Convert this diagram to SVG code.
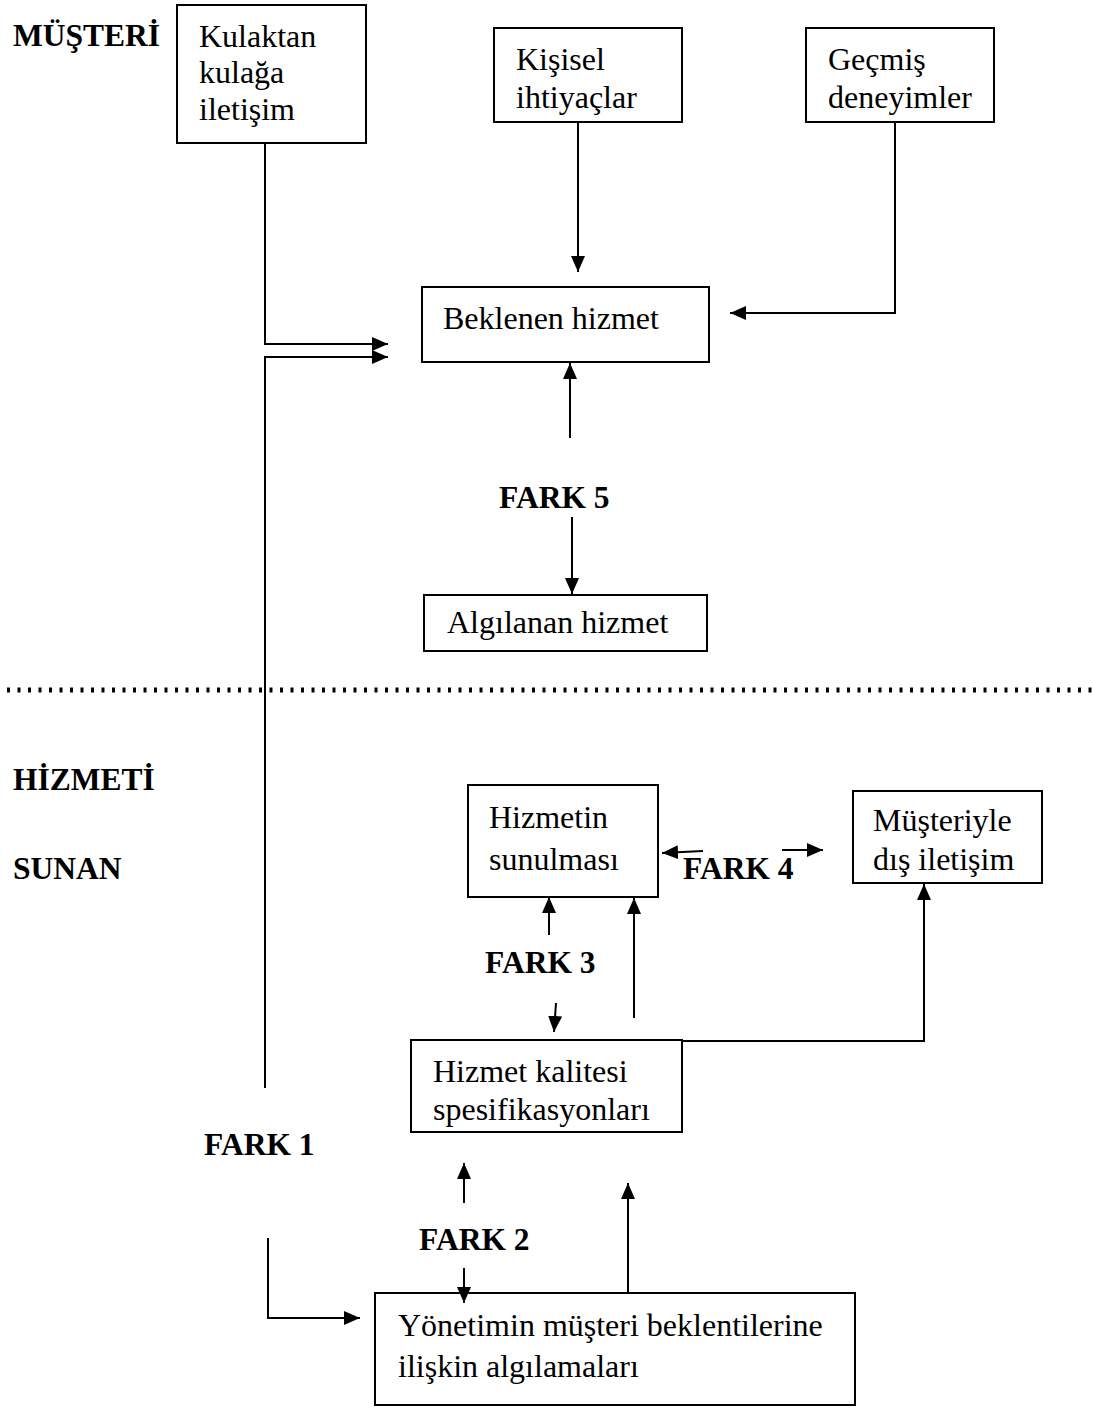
<svg xmlns="http://www.w3.org/2000/svg" width="1093" height="1416" viewBox="0 0 1093 1416">
  <defs>
    <marker id="arrow" markerUnits="userSpaceOnUse" markerWidth="17" markerHeight="15" refX="16" refY="7" orient="auto">
      <path d="M0,0 L16,7 L0,14 Z" fill="#000"/>
    </marker>
    <style>
      .box { fill: #fff; stroke: #000; stroke-width: 2; }
      .txt { font-family: "Liberation Serif", "Times New Roman", serif; font-size: 32px; fill: #000; }
      .lbl { font-family: "Liberation Serif", "Times New Roman", serif; font-size: 31.5px; font-weight: bold; fill: #000; }
      .conn { fill: none; stroke: #000; stroke-width: 2; }
      .arr { marker-end: url(#arrow); }
    </style>
  </defs>
  <rect width="1093" height="1416" fill="#fff"/>

  <!-- side labels and gap labels -->
  <g id="labels">
    <text class="lbl" x="13" y="46">MÜŞTERİ</text>
    <text class="lbl" x="13" y="790">HİZMETİ</text>
    <text class="lbl" x="13" y="879">SUNAN</text>
    <text class="lbl" x="499" y="508">FARK 5</text>
    <text class="lbl" x="683" y="879">FARK 4</text>
    <text class="lbl" x="485" y="973">FARK 3</text>
    <text class="lbl" x="204" y="1155">FARK 1</text>
    <text class="lbl" x="419" y="1250">FARK 2</text>
  </g>

  <!-- nodes -->
  <g id="kulaktan">
    <rect class="box" x="177" y="5" width="189" height="138"/>
    <text class="txt" x="199" y="47">Kulaktan</text>
    <text class="txt" x="199" y="83">kulağa</text>
    <text class="txt" x="199" y="120">iletişim</text>
  </g>
  <g id="kisisel">
    <rect class="box" x="494" y="28" width="188" height="94"/>
    <text class="txt" x="516" y="70">Kişisel</text>
    <text class="txt" x="516" y="108">ihtiyaçlar</text>
  </g>
  <g id="gecmis">
    <rect class="box" x="806" y="28" width="188" height="94"/>
    <text class="txt" x="828" y="70">Geçmiş</text>
    <text class="txt" x="828" y="108">deneyimler</text>
  </g>
  <g id="beklenen">
    <rect class="box" x="422" y="287" width="287" height="75"/>
    <text class="txt" x="443" y="329">Beklenen hizmet</text>
  </g>
  <g id="algilanan">
    <rect class="box" x="424" y="595" width="283" height="56"/>
    <text class="txt" x="447" y="633">Algılanan hizmet</text>
  </g>
  <g id="hizmetin-sunulmasi">
    <rect class="box" x="468" y="785" width="190" height="112"/>
    <text class="txt" x="489" y="828">Hizmetin</text>
    <text class="txt" x="489" y="870">sunulması</text>
  </g>
  <g id="dis-iletisim">
    <rect class="box" x="853" y="791" width="189" height="92"/>
    <text class="txt" x="873" y="831">Müşteriyle</text>
    <text class="txt" x="873" y="870">dış iletişim</text>
  </g>
  <g id="kalite-spesifikasyonlari">
    <rect class="box" x="411" y="1040" width="271" height="92"/>
    <text class="txt" x="433" y="1082">Hizmet kalitesi</text>
    <text class="txt" x="433" y="1120">spesifikasyonları</text>
  </g>
  <g id="yonetim-algilamalari">
    <rect class="box" x="375" y="1293" width="480" height="112"/>
    <text class="txt" x="398" y="1336">Yönetimin müşteri beklentilerine</text>
    <text class="txt" x="398" y="1377">ilişkin algılamaları</text>
  </g>

  <!-- dotted separator between customer and provider sides -->
  <line x1="7" y1="690" x2="1093" y2="690" stroke="#000" stroke-width="5" stroke-dasharray="3 7.5"/>

  <!-- connectors -->
  <g id="connectors">
    <polyline class="conn arr" points="265,143 265,344 388,344"/>
    <polyline class="conn arr" points="265,1088 265,357 388,357"/>
    <line class="conn arr" x1="578" y1="122" x2="578" y2="272"/>
    <polyline class="conn arr" points="895,122 895,313 730,313"/>
    <line class="conn arr" x1="570" y1="438" x2="570" y2="363"/>
    <line class="conn arr" x1="572" y1="517" x2="572" y2="594"/>
    <line class="conn arr" x1="703" y1="851" x2="662" y2="853"/>
    <line class="conn arr" x1="782" y1="850" x2="823" y2="850"/>
    <polyline class="conn arr" points="682,1041 924,1041 924,884"/>
    <line class="conn arr" x1="549" y1="935" x2="549" y2="897"/>
    <line class="conn arr" x1="634" y1="1018" x2="634" y2="898"/>
    <line class="conn arr" x1="556" y1="1003" x2="554" y2="1032"/>
    <line class="conn arr" x1="464" y1="1203" x2="464" y2="1163"/>
    <line class="conn arr" x1="628" y1="1292" x2="628" y2="1183"/>
    <line class="conn arr" x1="464" y1="1268" x2="464" y2="1303"/>
    <polyline class="conn arr" points="268,1238 268,1318 360,1318"/>
  </g>
</svg>
